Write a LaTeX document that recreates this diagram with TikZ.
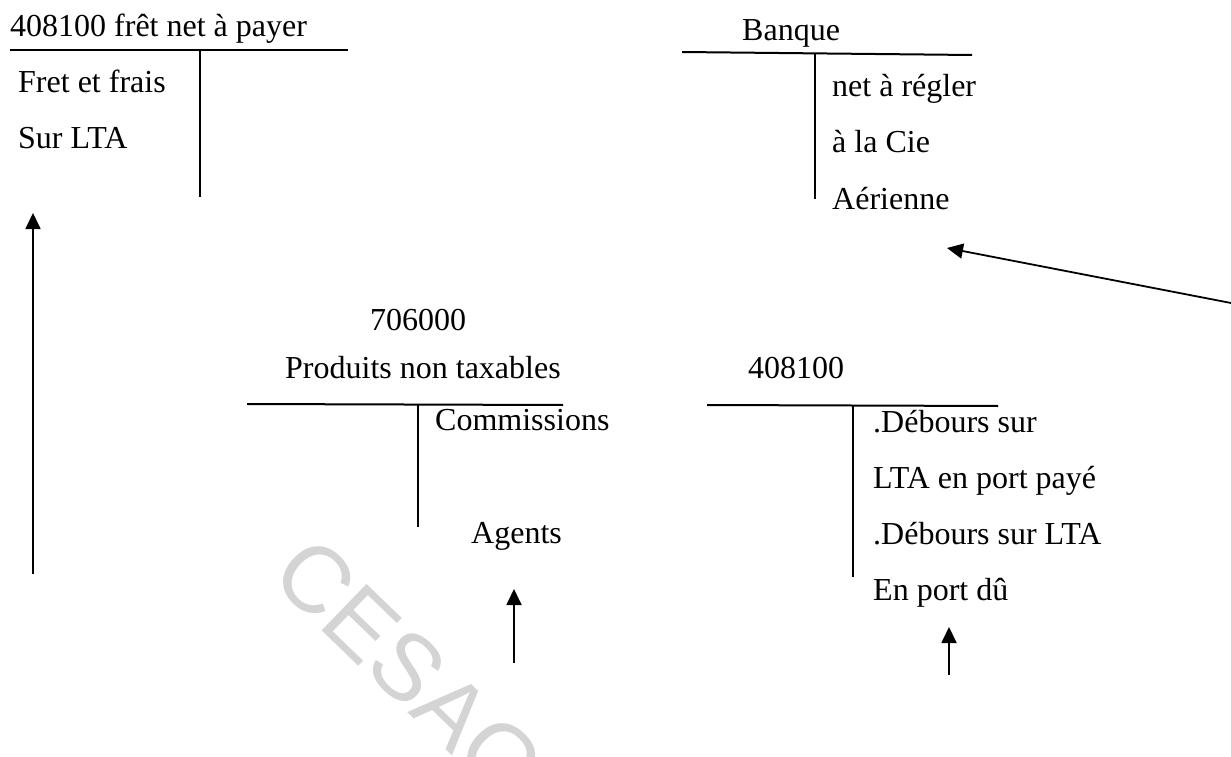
\documentclass[tikz,border=0pt]{standalone}
\usepackage{fontspec}
\setmainfont{Liberation Serif}
\newfontfamily\bodyface{Liberation Serif}
\newfontfamily\markface{Liberation Sans}
\usetikzlibrary{arrows.meta}
\definecolor{wmark}{RGB}{212,212,212}
\begin{document}
\begin{tikzpicture}[x=1pt,y=-1pt,
  txt/.style={anchor=base west,inner sep=0pt,font=\bodyface\fontsize{32}{38}\selectfont},
  rule/.style={line width=2pt},
  flow/.style={line width=1.8pt,-{Triangle[length=16pt,width=15pt]}}]
\useasboundingbox (0,0) rectangle (1231,757);
\clip (0,0) rectangle (1231,757);

% watermark
\node[font=\markface\fontsize{94}{94}\selectfont,text=wmark,rotate=-44,anchor=base west,inner sep=0pt]
  (wm) at (268,578) {CESAG};

% account 408100 fret net a payer
\node[txt] (t1) at (10,37) {408100 frêt net à payer};
\draw[rule] (10,50) -- (348,50);
\draw[rule] (200,50) -- (200,197);
\node[txt] (t1a) at (18,93) {Fret et frais};
\node[txt] (t1b) at (18,149) {Sur LTA};

% account Banque
\node[txt] (t2) at (742,41) {Banque};
\draw[rule] (682,52) -- (972,55);
\draw[rule] (815,54) -- (815,199);
\node[txt] (t2a) at (832,97) {net à régler};
\node[txt] (t2b) at (832,153) {à la Cie};
\node[txt] (t2c) at (832,209) {Aérienne};

% account 706000
\node[txt] (t3) at (370,330) {706000};
\node[txt] (t3b) at (285,378) {Produits non taxables};
\draw[rule] (247,404) -- (563,405);
\draw[rule] (418,405) -- (418,527);
\node[txt] (t3c) at (435,430) {Commissions};
\node[txt] (t3d) at (471,543) {Agents};

% account 408100
\node[txt] (t4) at (748,378) {408100};
\draw[rule] (707,405) -- (998,406);
\draw[rule] (853,406) -- (853,577);
\node[txt] (t4a) at (873,432) {.Débours sur};
\node[txt] (t4b) at (873,488) {LTA en port payé};
\node[txt] (t4c) at (873,544) {.Débours sur LTA};
\node[txt] (t4d) at (873,600) {En port dû};

% flow arrows
\coordinate (a1s) at (33,574);
\coordinate (a1e) at (33,213);
\coordinate (a2s) at (1231,303);
\coordinate (a2e) at (947,248);
\coordinate (a3s) at (514,663);
\coordinate (a3e) at (514,589);
\coordinate (a4s) at (949,675);
\coordinate (a4e) at (949,627);
\draw[flow] (a1s) -- (a1e);
\draw[flow] (a2s) -- (a2e);
\draw[flow] (a3s) -- (a3e);
\draw[flow] (a4s) -- (a4e);
\end{tikzpicture}
\end{document}
